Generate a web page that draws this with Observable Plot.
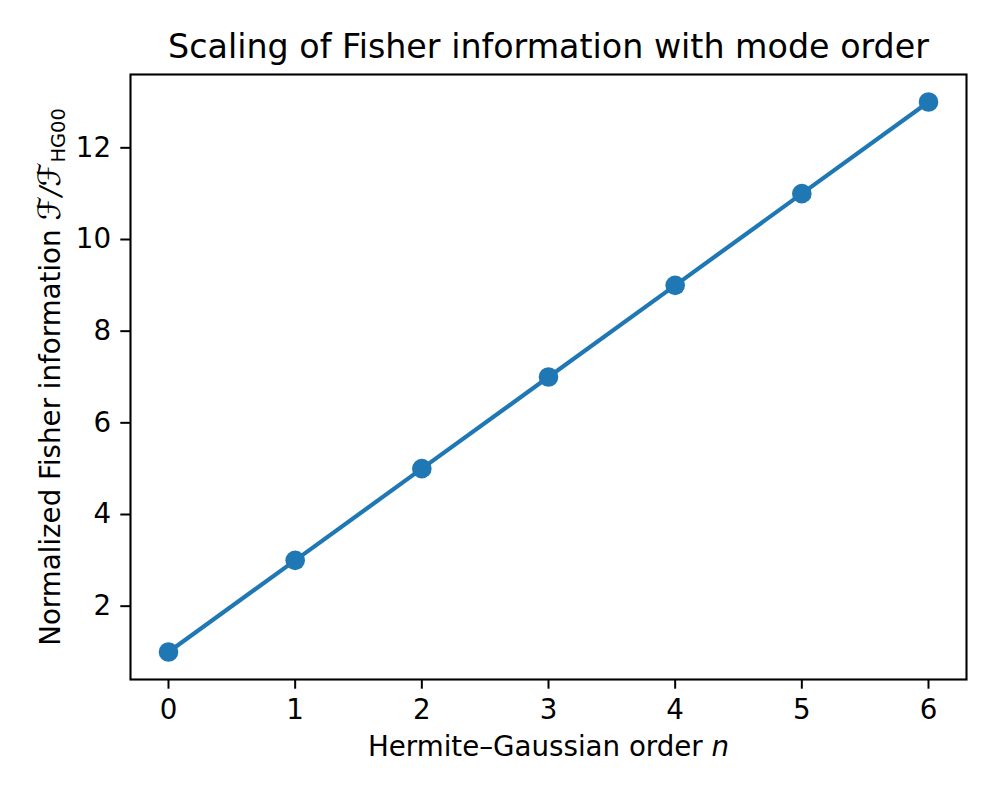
<!DOCTYPE html>
<html>
<head>
<meta charset="utf-8">
<script src="https://cdn.jsdelivr.net/npm/d3@7"></script>
<script src="https://cdn.jsdelivr.net/npm/@observablehq/plot@0.6"></script>
<style>
  html, body { margin: 0; padding: 0; background: #fff; }
  svg { font-family: "DejaVu Sans", sans-serif; }
</style>
</head>
<body>
<div id="chart"></div>
<script>
const orders = [0, 1, 2, 3, 4, 5, 6];
const fisherNormalized = [1, 3, 5, 7, 9, 11, 13];
const xTicks = [0, 1, 2, 3, 4, 5, 6];
const yTicks = [2, 4, 6, 8, 10, 12];
const titleText = "Scaling of Fisher information with mode order";
const xLabelText = "Hermite–Gaussian order";
const yLabelText = "Normalized Fisher information";

const data = orders.map((n, i) => ({n, f: fisherNormalized[i]}));
const blue = "#1f77b4";
const W = 996, H = 797;
const mL = 130, mR = 30, mT = 74, mB = 118;
const FS = 27.7;

const plot = Plot.plot({
  width: W,
  height: H,
  marginLeft: mL,
  marginRight: mR,
  marginTop: mT,
  marginBottom: mB,
  style: {fontFamily: "DejaVu Sans, sans-serif", fontSize: FS + "px", color: "#000", background: "#fff"},
  x: {domain: [-0.3, 6.3], ticks: xTicks, label: null},
  y: {domain: [0.4, 13.6], ticks: yTicks, label: null},
  marks: [
    Plot.axisX({ticks: xTicks, tickSize: 9.7, tickPadding: 10.6, tickFormat: d => String(d), fontSize: FS, stroke: "#000", strokeWidth: 2, label: null}),
    Plot.axisY({ticks: yTicks, tickSize: 9.7, tickPadding: 9.7, tickFormat: d => String(d), fontSize: FS, stroke: "#000", strokeWidth: 2, label: null}),
    Plot.line(data, {x: "n", y: "f", stroke: blue, strokeWidth: 4.2}),
    Plot.dot(data, {x: "n", y: "f", fill: blue, r: 9.8, stroke: null}),
    Plot.frame({stroke: "#000", strokeWidth: 2.1}),
    Plot.text([titleText], {frameAnchor: "top", dy: -16.5, lineAnchor: "bottom", text: d => d, fontSize: 33.3, fill: "#000", className: "ttl"}),
    Plot.text([xLabelText], {frameAnchor: "bottom", dy: 76, lineAnchor: "bottom", text: d => d, fontSize: FS, fill: "#000", className: "xlab"}),
    Plot.text([yLabelText], {frameAnchor: "left", dx: -71, rotate: -90, textAnchor: "middle", lineAnchor: "bottom", text: d => d, fontSize: FS, fill: "#000", className: "ylab"})
  ]
});

document.getElementById("chart").appendChild(plot);

// Rich text: italic n on x label, math fraction on y label
const svg = d3.select(plot);
svg.selectAll(".xlab text").each(function() {
  const t = d3.select(this);
  t.text(null);
  t.append("tspan").text(xLabelText + " ");
  t.append("tspan").attr("font-style", "italic").text("n");
});
svg.selectAll(".ylab text").each(function() {
  const t = d3.select(this);
  t.text(null);
  t.append("tspan").text(yLabelText + " ");
  t.append("tspan").attr("font-style", "italic").attr("font-size", "31px").text("ℱ");
  t.append("tspan").attr("font-style", "italic").text("/");
  t.append("tspan").attr("font-style", "italic").attr("font-size", "31px").text("ℱ");
  t.append("tspan").attr("font-size", "19.4px").attr("dy", "0.3em").text("HG00");
});
</script>
</body>
</html>
